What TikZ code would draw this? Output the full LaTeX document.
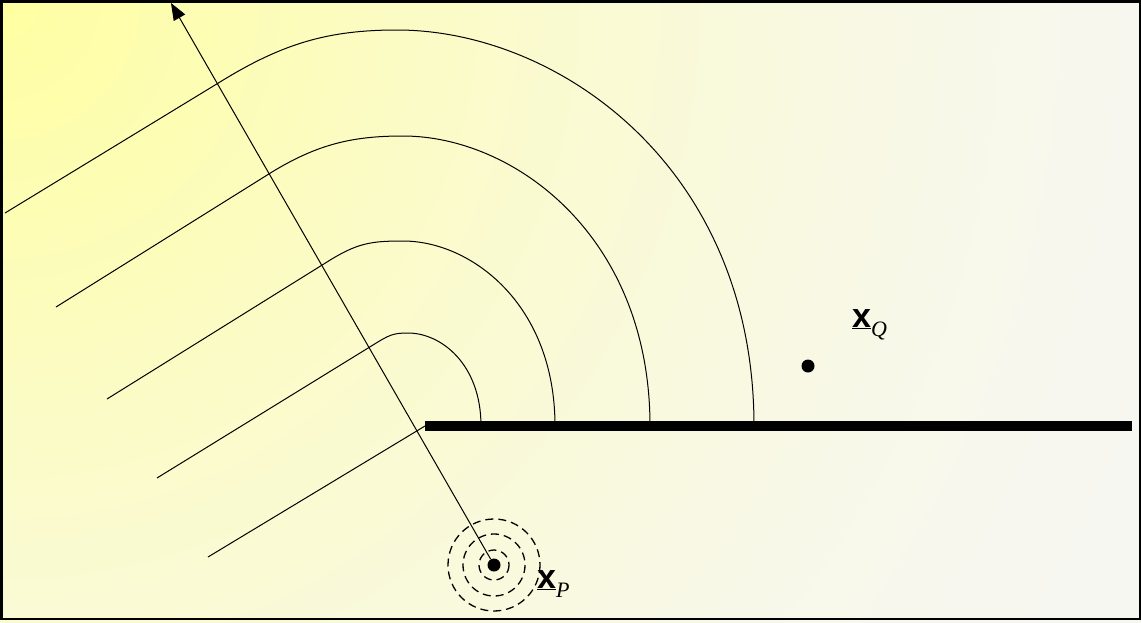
\documentclass[tikz,border=0pt]{standalone}
\usepackage{fontspec}
\setmainfont{Liberation Serif}
\setsansfont{Liberation Sans}
\usetikzlibrary{arrows.meta}
\definecolor{glowA}{RGB}{255,255,160}
\definecolor{glowE}{RGB}{247,247,241}
\newcommand{\posvec}[1]{{\fontsize{34}{34}\selectfont\sffamily\bfseries\underline{x}}{\fontsize{22}{22}\selectfont\itshape\raisebox{-9pt}{#1}}}
\begin{document}
\begin{tikzpicture}[x=1pt,y=-1pt,>={Triangle[length=17pt,width=13pt]}]
    \tikzstyle{wave}=[line width=1pt]
    \tikzstyle{ring}=[dash pattern=on 8pt off 5pt, line width=1.3pt]
    \tikzstyle{spot}=[circle, fill, inner sep=0pt, minimum size=13pt]
    \useasboundingbox (0,0) rectangle (1141,622);
    % yellow glow from the top left corner
    \begin{scope}
      \clip (0,0) rectangle (1141,622);
      \fill[glowE] (0,0) rectangle (1141,622);
      \foreach \i in {0,...,64} {
        \pgfmathsetmacro\rad{1300-20*\i}
        \pgfmathsetmacro\pct{100*(max(0,1-\rad/1250))^1.5}
        \fill[glowA!\pct!glowE] (0,0) circle (\rad);
      }
    \end{scope}
    \draw[line width=2.5pt] (1.25,1.25) rectangle (1139.75,619);
    % screen and its edge
    \coordinate (edge) at (425,426);
    \draw[line width=10pt] (edge) -- (1132,426);
    % wavefronts bending round the edge
    \draw[wave] (208,557) -- (edge);
    \foreach \f/\j/\ca/\cb/\t/\cc/\cd/\e in {
      {157,478}/{373,345}/{389,335}/{393,333}/{408,333}/{441,333}/{481,364}/{481,426},
      {107,399}/{327,262}/{357,243}/{371,241}/{403,241}/{471,241}/{555,304}/{555,426},
      {56,307}/{272,172}/{318,144}/{353,136}/{403,136}/{514,136}/{650,236}/{650,426},
      {5,213}/{220,82}/{283,43}/{329,30}/{397,30}/{558,30}/{754,167}/{754,426}}
      \draw[wave] (\f) -- (\j) .. controls (\ca) and (\cb) .. (\t) .. controls (\cc) and (\cd) .. (\e);
    % source and observer
    \node[spot] (P) at (494,565) {};
    \node[spot] (Q) at (808,366) {};
    \foreach \r in {15,31,46}
      \draw[ring] (P.center) circle (\r);
    \coordinate (tip) at (171,3);
    \draw[->, line width=1pt] (P) -- (tip);
    \node[anchor=base west, inner sep=0pt] (labP) at (537,588) {\posvec{P}};
    \node[anchor=base west, inner sep=0pt] (labQ) at (852,327) {\posvec{Q}};
\end{tikzpicture}
\end{document}
